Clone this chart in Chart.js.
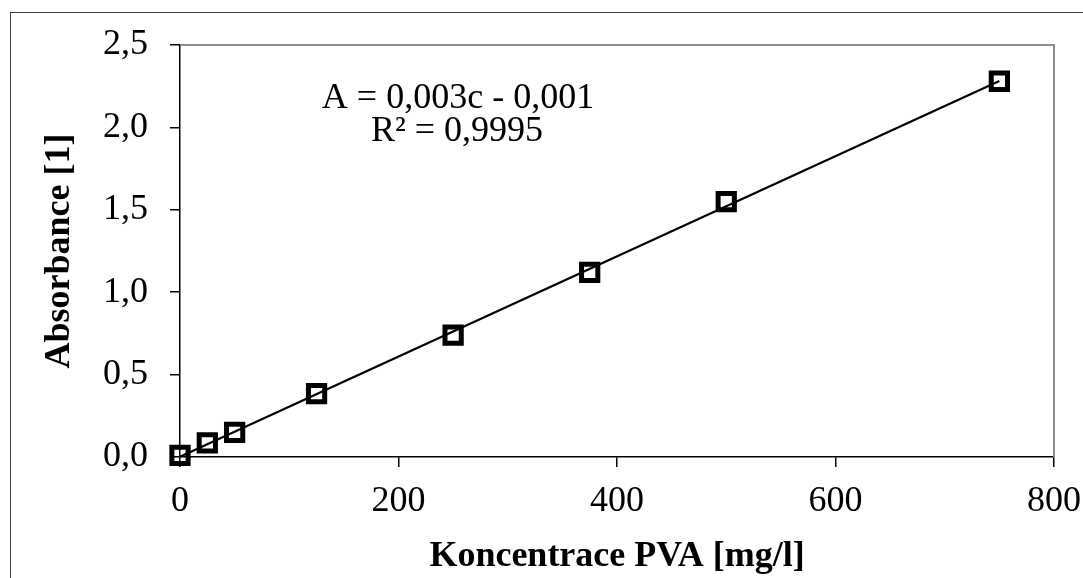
<!DOCTYPE html>
<html>
<head>
<meta charset="utf-8">
<script src="https://cdn.jsdelivr.net/npm/chart.js@4"></script>
<style>
  html, body { margin: 0; padding: 0; background: #fff; overflow: hidden; }
  #frame { position: absolute; left: 10px; top: 12px; width: 1200px; height: 700px; border: 1.5px solid #404040; }
  #wrap { position: absolute; left: 0; top: 0; width: 1083px; height: 578px; }
</style>
</head>
<body>
<div id="frame"></div>
<div id="wrap"><canvas id="chart"></canvas></div>
<script>
// concentration [mg/l] and measured absorbance
const concentrations = [0, 25, 50, 125, 250, 375, 500, 750];
const absorbances = [0.01, 0.085, 0.15, 0.385, 0.74, 1.12, 1.55, 2.28];
const xTicks = [0, 200, 400, 600, 800];
const yTicks = [0, 0.5, 1.0, 1.5, 2.0, 2.5];
const equationLines = ['A = 0,003c - 0,001', 'R\u00b2 = 0,9995'];

const serif = '"Liberation Serif", "Times New Roman", serif';

// least squares trendline over the measured points
function fitLine(xs, ys) {
  const n = xs.length;
  const mx = xs.reduce((a, b) => a + b, 0) / n;
  const my = ys.reduce((a, b) => a + b, 0) / n;
  let sxy = 0, sxx = 0;
  for (let i = 0; i < n; i++) {
    sxy += (xs[i] - mx) * (ys[i] - my);
    sxx += (xs[i] - mx) * (xs[i] - mx);
  }
  const k = sxy / sxx;
  return { k, q: my - k * mx };
}
const fit = fitLine(concentrations, absorbances);
const xMin = Math.min(...concentrations), xMax = Math.max(...concentrations);
const trend = [
  { x: xMin, y: fit.k * xMin + fit.q },
  { x: xMax, y: fit.k * xMax + fit.q }
];

const points = concentrations.map((c, i) => ({ x: c, y: absorbances[i] }));

const plotFrame = {
  id: 'plotFrame',
  beforeDatasetsDraw(chart) {
    const { ctx, chartArea: a } = chart;
    ctx.save();
    ctx.strokeStyle = '#8c8c8c';
    ctx.lineWidth = 2;
    ctx.beginPath();
    ctx.moveTo(a.left, a.top);
    ctx.lineTo(a.right, a.top);
    ctx.lineTo(a.right, a.bottom);
    ctx.stroke();
    ctx.restore();
  },
  afterDatasetsDraw(chart) {
    const ctx = chart.ctx;
    ctx.save();
    ctx.fillStyle = '#000';
    ctx.font = '36px ' + serif;
    ctx.textAlign = 'center';
    ctx.textBaseline = 'alphabetic';
    ctx.fillText(equationLines[0], 458, 108);
    ctx.fillText(equationLines[1], 457, 141);
    ctx.restore();
  }
};

new Chart(document.getElementById('chart'), {
  type: 'scatter',
  data: {
    datasets: [
      {
        label: 'Absorbance',
        data: points,
        pointStyle: 'rect',
        pointRadius: 11.5,
        pointHoverRadius: 11.5,
        pointBorderWidth: 5,
        borderColor: '#000',
        backgroundColor: 'rgba(0,0,0,0)',
        clip: false
      },
      {
        label: 'Trend',
        data: trend,
        showLine: true,
        pointRadius: 0,
        borderColor: '#000',
        borderWidth: 2.2,
        clip: false
      }
    ]
  },
  options: {
    responsive: true,
    maintainAspectRatio: false,
    animation: false,
    events: [],
    layout: { padding: { top: 45, right: 29, left: 0, bottom: 0 } },
    plugins: { legend: { display: false }, tooltip: { enabled: false } },
    scales: {
      x: {
        type: 'linear',
        min: 0,
        max: 800,
        afterFit(s) { s.height = 121; s.paddingLeft = 0; s.paddingRight = 0; },
        afterBuildTicks(s) { s.ticks = xTicks.map(v => ({ value: v })); },
        grid: { drawOnChartArea: false, drawTicks: true, tickLength: 10, color: '#000', lineWidth: 1.5 },
        border: { display: true, color: '#000', width: 1.5 },
        ticks: { color: '#000', font: { family: serif, size: 36 }, padding: 13, maxRotation: 0 },
        title: {
          display: true,
          text: 'Koncentrace PVA [mg/l]',
          color: '#000',
          font: { family: serif, size: 36, weight: 'bold' },
          padding: { top: 0, bottom: 0 }
        }
      },
      y: {
        type: 'linear',
        min: 0,
        max: 2.5,
        afterFit(s) { s.width = 180; s.paddingTop = 0; s.paddingBottom = 0; },
        afterBuildTicks(s) { s.ticks = yTicks.map(v => ({ value: v })); },
        grid: { drawOnChartArea: false, drawTicks: true, tickLength: 10, color: '#000', lineWidth: 1.5 },
        border: { display: true, color: '#000', width: 1.5 },
        ticks: {
          color: '#000',
          font: { family: serif, size: 36 },
          padding: 22,
          callback: v => v.toFixed(1).replace('.', ',')
        },
        title: {
          display: true,
          text: 'Absorbance [1]',
          color: '#000',
          font: { family: serif, size: 36, weight: 'bold' },
          padding: { top: 38, bottom: 0 }
        }
      }
    }
  },
  plugins: [plotFrame]
});
</script>
</body>
</html>
